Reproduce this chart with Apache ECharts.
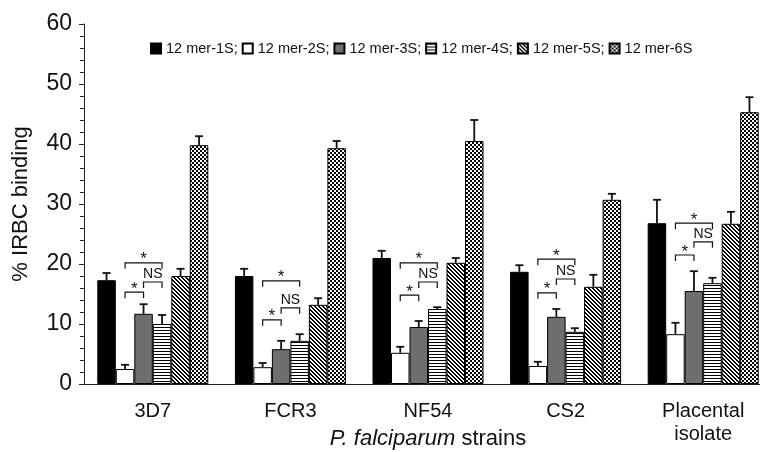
<!DOCTYPE html>
<html>
<head>
<meta charset="utf-8">
<script src="https://cdn.jsdelivr.net/npm/echarts@6/dist/echarts.min.js"></script>
<style>
  html, body { margin: 0; padding: 0; background: #fff; }
  #chart { width: 760px; height: 452px; }
</style>
</head>
<body>
<div id="chart"></div>
<script>
var strains = ['3D7', 'FCR3', 'NF54', 'CS2', 'Placental\nisolate']
var seriesNames = ['12 mer-1S', '12 mer-2S', '12 mer-3S', '12 mer-4S', '12 mer-5S', '12 mer-6S']
var yTicks = [0, 10, 20, 30, 40, 50, 60]

// mean % binding per peptide, one value per strain
var mer1S = [17.3, 18.0, 21.0, 18.7, 26.8]
var mer2S = [2.5, 2.8, 5.2, 3.0, 8.3]
var mer3S = [11.7, 5.8, 9.5, 11.2, 15.5]
var mer4S = [10.0, 7.2, 12.5, 8.7, 16.8]
var mer5S = [18.0, 13.2, 20.2, 16.2, 26.7]
var mer6S = [39.8, 39.3, 40.5, 30.7, 45.3]

// upper error (SD)
var err1S = [1.2, 1.2, 1.2, 1.1, 3.9]
var err2S = [0.7, 0.7, 1.0, 0.7, 1.9]
var err3S = [1.6, 1.4, 1.0, 1.3, 3.3]
var err4S = [1.5, 1.1, 0.3, 0.6, 0.9]
var err5S = [1.2, 1.1, 0.8, 2.0, 2.0]
var err6S = [1.5, 1.2, 3.5, 1.0, 2.5]

// significance brackets (height of bracket line)
var sig2to4 = [20.2, 17.2, 20.2, 20.8, 26.8]   // *
var sig3to4 = [17.0, 12.7, 17.0, 17.5, 23.7]   // NS
var sig2to3 = [15.3, 10.7, 14.8, 15.2, 21.5]   // *

var values = [mer1S, mer2S, mer3S, mer4S, mer5S, mer6S]
var errors = [err1S, err2S, err3S, err4S, err5S, err6S]

var BAR_W = 18.5
var FONT = '"Liberation Sans", Arial, Helvetica, sans-serif'

function makePattern(w, h, draw) {
    var c = document.createElement('canvas')
    c.width = w
    c.height = h
    var ctx = c.getContext('2d')
    ctx.fillStyle = '#fff'
    ctx.fillRect(0, 0, w, h)
    ctx.fillStyle = '#000'
    draw(ctx)
    return { image: c, repeat: 'repeat' }
}

var hStripes = makePattern(4, 3, function (ctx) {
    ctx.fillRect(0, 0, 4, 1)
})
var diagStripes = makePattern(4, 4, function (ctx) {
    for (var i = 0; i < 4; i++) {
        ctx.fillRect(i, i, 1, 1)
        ctx.fillRect((i + 1) % 4, i, 1, 1)
    }
})
var checks = makePattern(4, 4, function (ctx) {
    ctx.fillRect(0, 0, 4, 4)
    ctx.fillStyle = '#fff'
    ctx.fillRect(0, 0, 2, 2)
    ctx.fillRect(2, 2, 2, 2)
})

var fills = ['#000', '#fff', '#6e6e6e', hStripes, diagStripes, checks]

var series = []
for (var s = 0; s < seriesNames.length; s++) {
    series.push({
        name: seriesNames[s],
        type: 'bar',
        data: values[s],
        barWidth: BAR_W,
        barGap: '0%',
        itemStyle: { color: fills[s], borderColor: '#000', borderWidth: 1 },
        z: 2
    })
}

var errData = []
for (var s = 0; s < seriesNames.length; s++) {
    for (var i = 0; i < strains.length; i++) {
        errData.push([i, s, values[s][i], errors[s][i]])
    }
}

series.push({
    type: 'custom',
    data: errData,
    z: 5,
    silent: true,
    renderItem: function (params, api) {
        var cat = api.value(0)
        var off = (api.value(1) - 2.5) * BAR_W
        var v = api.value(2)
        var e = api.value(3)
        var p0 = api.coord([cat, v])
        var p1 = api.coord([cat, v + e])
        var x = p0[0] + off
        var st = { stroke: '#111', lineWidth: 1.8 }
        return {
            type: 'group',
            children: [
                { type: 'line', shape: { x1: x, y1: p0[1], x2: x, y2: p1[1] }, style: st },
                { type: 'line', shape: { x1: x - 4, y1: p1[1], x2: x + 4, y2: p1[1] }, style: st }
            ]
        }
    }
})

var sigData = []
for (var i = 0; i < strains.length; i++) {
    sigData.push([i, sig2to4[i], sig3to4[i], sig2to3[i]])
}

function bracket(xa, xb, y) {
    return {
        type: 'polyline',
        shape: { points: [[xa, y + 6], [xa, y], [xb, y], [xb, y + 6]] },
        style: { stroke: '#111', lineWidth: 1.2, fill: null }
    }
}

function label(text, x, y, size) {
    return {
        type: 'text',
        style: {
            text: text, x: x, y: y, align: 'center', verticalAlign: 'middle',
            font: size + 'px ' + FONT, fill: '#111'
        }
    }
}

series.push({
    type: 'custom',
    data: sigData,
    z: 6,
    silent: true,
    renderItem: function (params, api) {
        var cat = api.value(0)
        var cx = api.coord([cat, 0])[0]
        var x2 = cx - 1.5 * BAR_W
        var x3 = cx - 0.5 * BAR_W
        var x4 = cx + 0.5 * BAR_W
        var yA = api.coord([cat, api.value(1)])[1]
        var yB = api.coord([cat, api.value(2)])[1]
        var yC = api.coord([cat, api.value(3)])[1]
        return {
            type: 'group',
            children: [
                bracket(x2, x4, yA),
                label('*', (x2 + x4) / 2, yA - 3, 17),
                bracket(x3, x4, yB),
                label('NS', (x3 + x4) / 2, yB - 8, 14),
                bracket(x2, x3, yC),
                label('*', (x2 + x3) / 2, yC - 3, 17)
            ]
        }
    }
})

var myChart = echarts.init(document.getElementById('chart'))
var option = {
    animation: false,
    backgroundColor: '#fff',
    textStyle: { fontFamily: FONT },
    legend: {
        data: seriesNames,
        left: 145,
        top: 36,
        icon: 'rect',
        itemWidth: 10,
        itemHeight: 10,
        itemGap: 4,
        textStyle: { fontSize: 14.5, color: '#111', fontFamily: FONT },
        formatter: function (name) {
            return name === seriesNames[seriesNames.length - 1] ? name : name + ';'
        }
    },
    grid: { left: 84, top: 24, width: 688, height: 360, outerBoundsMode: 'none', containLabel: false },
    xAxis: {
        type: 'category',
        data: strains,
        axisLine: { lineStyle: { color: '#222', width: 1 } },
        axisTick: { length: 5, lineStyle: { color: '#222' } },
        axisLabel: { fontSize: 20, color: '#111', margin: 16, lineHeight: 23, fontFamily: FONT },
        name: '{i|P. falciparum} strains',
        nameLocation: 'middle',
        nameGap: 44,
        nameMoveOverlap: false,
        nameTextStyle: {
            fontSize: 22, color: '#111', fontFamily: FONT,
            rich: { i: { fontSize: 22, fontStyle: 'italic', color: '#111', fontFamily: FONT } }
        }
    },
    yAxis: {
        type: 'value',
        min: yTicks[0],
        max: yTicks[yTicks.length - 1],
        interval: 10,
        axisLine: { show: true, lineStyle: { color: '#222', width: 1 } },
        axisTick: { show: true, length: 5, lineStyle: { color: '#222' } },
        minorTick: { show: true, splitNumber: 5, length: 4, lineStyle: { color: '#222' } },
        splitLine: { show: false },
        axisLabel: { fontSize: 23, color: '#111', margin: 12, fontFamily: FONT },
        name: '% IRBC binding',
        nameLocation: 'middle',
        nameGap: 52,
        nameMoveOverlap: false,
        nameTextStyle: { fontSize: 22, color: '#111', fontFamily: FONT }
    },
    series: series
}
myChart.setOption(option)
</script>
</body>
</html>
